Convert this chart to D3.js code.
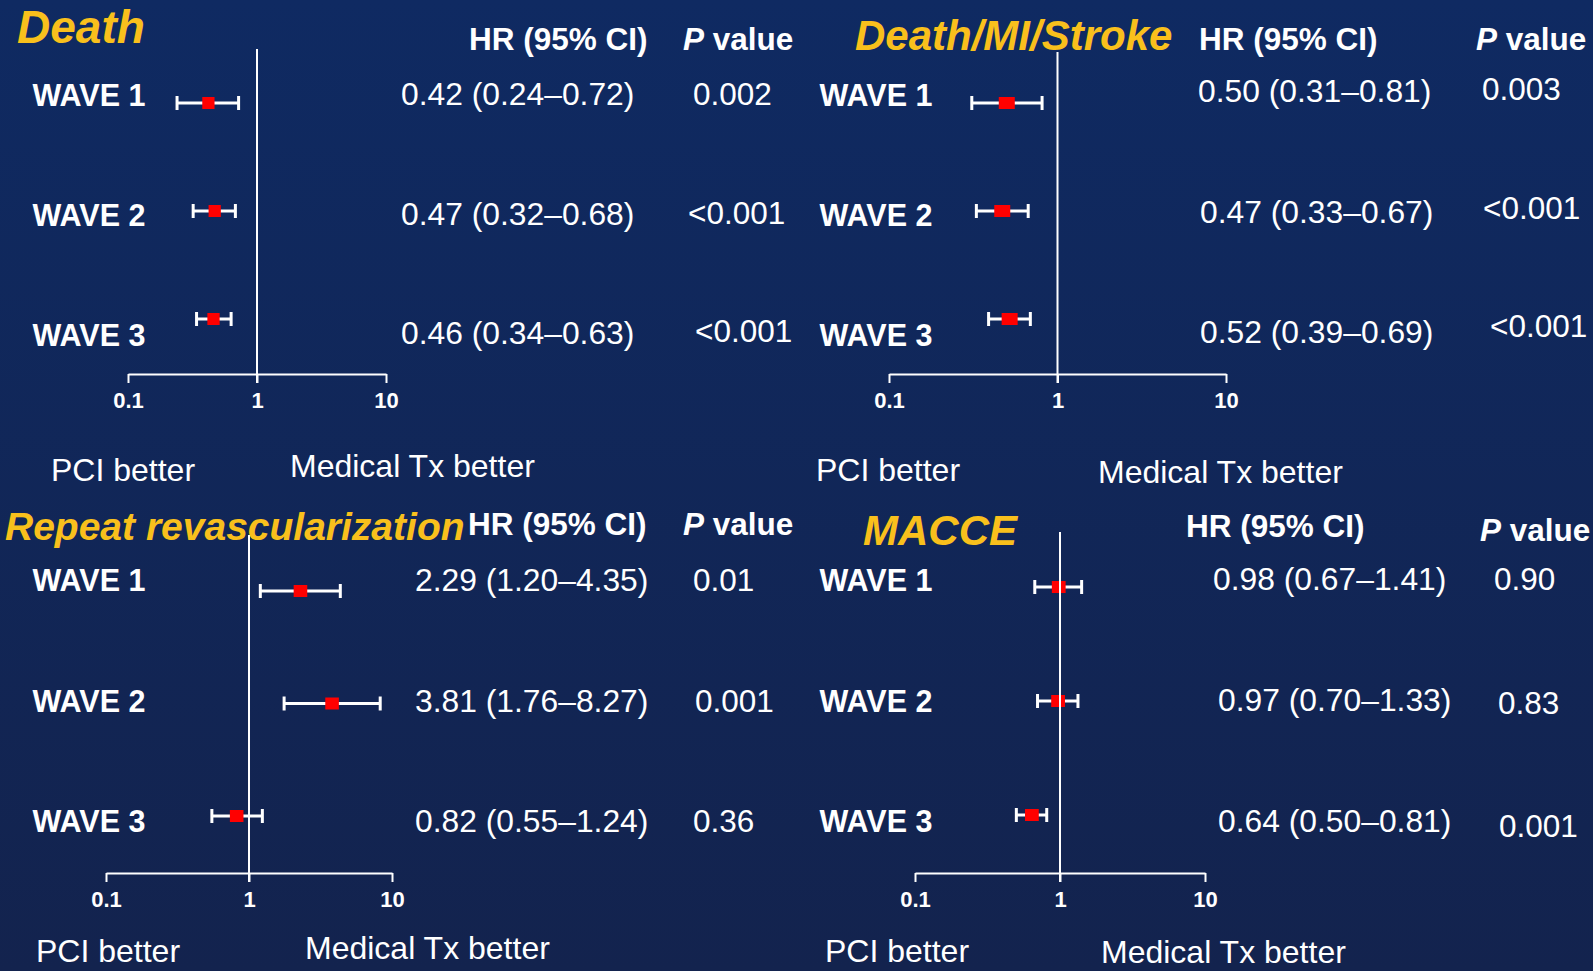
<!DOCTYPE html>
<html>
<head>
<meta charset="utf-8">
<script src="https://cdn.jsdelivr.net/npm/d3@7"></script>
<style>
  body { margin: 0; background: #112960; }
  svg { display: block; }
</style>
</head>
<body>
<script>
const outcomes = ['Death', 'Death/MI/Stroke', 'Repeat revascularization', 'MACCE'];
const waves = ['WAVE 1', 'WAVE 2', 'WAVE 3'];
const hr = [
  [0.42, 0.47, 0.46],
  [0.50, 0.47, 0.52],
  [2.29, 3.81, 0.82],
  [0.98, 0.97, 0.64],
];
const ciLow = [
  [0.24, 0.32, 0.34],
  [0.31, 0.33, 0.39],
  [1.20, 1.76, 0.55],
  [0.67, 0.70, 0.50],
];
const ciHigh = [
  [0.72, 0.68, 0.63],
  [0.81, 0.67, 0.69],
  [4.35, 8.27, 1.24],
  [1.41, 1.33, 0.81],
];
const pValues = [
  ['0.002', '<0.001', '<0.001'],
  ['0.003', '<0.001', '<0.001'],
  ['0.01', '0.001', '0.36'],
  ['0.90', '0.83', '0.001'],
];
const axisTicks = [0.1, 1, 10];
const sideLabels = ['PCI better', 'Medical Tx better'];

// layout of the four panels (pixel positions only)
const layout = [
  { x0: 128, x1: 386, axisY: 374, refTop: 49, bars: [103, 319], labelX: 89, labels: [106, 346],
    hrX: [401, 401, 401], hrRows: [105, 344], pX: [693, 688, 695], pRows: [105, 342],
    headY: 50, headHrX: 469, headPX: 683, headPY: 50,
    title: { x: 17, y: 43, size: 46 }, pci: [51, 481], med: [290, 477] },
  { x0: 889, x1: 1226, axisY: 374, refTop: 52, bars: [103, 319], labelX: 876, labels: [106, 346],
    hrX: [1198, 1200, 1200], hrRows: [102, 343], pX: [1482, 1483, 1490], pRows: [100, 337],
    headY: 50, headHrX: 1199, headPX: 1476, headPY: 50,
    title: { x: 855, y: 50, size: 42 }, pci: [816, 481], med: [1098, 483] },
  { x0: 106, x1: 392, axisY: 873, refTop: 535, bars: [591, 816], labelX: 89, labels: [591, 832],
    hrX: [415, 415, 415], hrRows: [591, 832], pX: [693, 695, 693], pRows: [591, 832],
    headY: 535, headHrX: 468, headPX: 683, headPY: 535,
    title: { x: 5, y: 540, size: 39 }, pci: [36, 962], med: [305, 959] },
  { x0: 915, x1: 1205, axisY: 873, refTop: 532, bars: [587, 815], labelX: 876, labels: [591, 832],
    hrX: [1213, 1218, 1218], hrRows: [590, 832], pX: [1494, 1498, 1499], pRows: [590, 837],
    headY: 537, headHrX: 1186, headPX: 1480, headPY: 541,
    title: { x: 863, y: 545, size: 42 }, pci: [825, 962], med: [1101, 963] },
];

const W = 1593;
const H = 971;
const FONT = '"Liberation Sans", Arial, Helvetica, sans-serif';
const YELLOW = '#f9c01c';
const fmt = d3.format('.2f');

const svg = d3.select('body').append('svg')
  .attr('width', W)
  .attr('height', H)
  .style('font-family', FONT);

const grad = svg.append('defs').append('linearGradient')
  .attr('id', 'bg')
  .attr('x1', 0).attr('y1', 0).attr('x2', 0).attr('y2', 1);
grad.append('stop').attr('offset', '0%').attr('stop-color', '#0f2a62');
grad.append('stop').attr('offset', '100%').attr('stop-color', '#13234e');

svg.append('rect').attr('width', W).attr('height', H).attr('fill', 'url(#bg)');

outcomes.forEach((name, i) => {
  const p = layout[i];
  const g = svg.append('g');

  const x = d3.scaleLog().domain([0.1, 10]).range([p.x0, p.x1]);
  const yBar = d3.scalePoint().domain(waves).range(p.bars);
  const yLabel = d3.scalePoint().domain(waves).range(p.labels);
  const yHr = d3.scalePoint().domain(waves).range(p.hrRows);
  const yP = d3.scalePoint().domain(waves).range(p.pRows);
  const sqW = 0.095 * (p.x1 - p.x0) / 2;
  const sqH = 12;

  const rows = waves.map((w, j) => ({
    wave: w, hr: hr[i][j], lo: ciLow[i][j], hi: ciHigh[i][j], p: pValues[i][j], j,
  }));

  // title
  g.append('text')
    .attr('x', p.title.x)
    .attr('y', p.title.y)
    .attr('fill', YELLOW)
    .attr('font-size', p.title.size)
    .attr('font-weight', 'bold')
    .attr('font-style', 'italic')
    .text(name);

  // column headers
  g.append('text')
    .attr('x', p.headHrX)
    .attr('y', p.headY)
    .attr('fill', '#fff')
    .attr('font-size', 31.5)
    .attr('font-weight', 'bold')
    .text('HR (95% CI)');

  const ph = g.append('text')
    .attr('x', p.headPX)
    .attr('y', p.headPY)
    .attr('fill', '#fff')
    .attr('font-size', 31.5)
    .attr('font-weight', 'bold');
  ph.append('tspan').attr('font-style', 'italic').text('P');
  ph.append('tspan').text(' value');

  // axis
  const axis = d3.axisBottom(x)
    .tickValues(axisTicks)
    .tickFormat((d) => d)
    .tickSizeInner(9)
    .tickSizeOuter(0)
    .tickPadding(9);

  const ax = g.append('g')
    .attr('transform', `translate(0,${p.axisY})`)
    .call(axis);
  ax.attr('font-family', FONT).attr('font-size', 22);
  ax.select('.domain').attr('stroke', '#fff').attr('stroke-width', 2);
  ax.selectAll('.tick line').attr('stroke', '#fff').attr('stroke-width', 2);
  ax.selectAll('.tick text').attr('fill', '#fff').attr('font-weight', 'bold');

  // wave labels
  g.selectAll('.wave')
    .data(rows)
    .join('text')
    .attr('x', p.labelX)
    .attr('y', (d) => yLabel(d.wave))
    .attr('text-anchor', 'middle')
    .attr('fill', '#fff')
    .attr('font-size', 30.5)
    .attr('font-weight', 'bold')
    .text((d) => d.wave);

  // CI whiskers
  g.selectAll('.ci')
    .data(rows)
    .join('line')
    .attr('x1', (d) => x(d.lo))
    .attr('x2', (d) => x(d.hi))
    .attr('y1', (d) => yBar(d.wave))
    .attr('y2', (d) => yBar(d.wave))
    .attr('stroke', '#fff')
    .attr('stroke-width', 3);

  const caps = rows.flatMap((d) => [{ v: d.lo, wave: d.wave }, { v: d.hi, wave: d.wave }]);
  g.selectAll('.cap')
    .data(caps)
    .join('line')
    .attr('x1', (d) => x(d.v))
    .attr('x2', (d) => x(d.v))
    .attr('y1', (d) => yBar(d.wave) - 7)
    .attr('y2', (d) => yBar(d.wave) + 7)
    .attr('stroke', '#fff')
    .attr('stroke-width', 3);

  // point estimates
  g.selectAll('.est')
    .data(rows)
    .join('rect')
    .attr('x', (d) => x(d.hr) - sqW / 2)
    .attr('y', (d) => yBar(d.wave) - sqH / 2)
    .attr('width', sqW)
    .attr('height', sqH)
    .attr('fill', '#ff0000');

  // line of no effect
  g.append('line')
    .attr('x1', x(1))
    .attr('x2', x(1))
    .attr('y1', p.refTop)
    .attr('y2', p.axisY + 9)
    .attr('stroke', '#fff')
    .attr('stroke-width', 2);

  // HR text
  g.selectAll('.hr')
    .data(rows)
    .join('text')
    .attr('x', (d) => p.hrX[d.j])
    .attr('y', (d) => yHr(d.wave))
    .attr('fill', '#fff')
    .attr('font-size', 31.8)
    .text((d) => `${fmt(d.hr)} (${fmt(d.lo)}\u2013${fmt(d.hi)})`);

  // P values
  g.selectAll('.pv')
    .data(rows)
    .join('text')
    .attr('x', (d) => p.pX[d.j])
    .attr('y', (d) => yP(d.wave))
    .attr('fill', '#fff')
    .attr('font-size', 31.5)
    .text((d) => d.p);

  // direction labels
  g.append('text')
    .attr('x', p.pci[0])
    .attr('y', p.pci[1])
    .attr('fill', '#fff')
    .attr('font-size', 32)
    .text(sideLabels[0]);

  g.append('text')
    .attr('x', p.med[0])
    .attr('y', p.med[1])
    .attr('fill', '#fff')
    .attr('font-size', 32)
    .text(sideLabels[1]);
});
</script>
</body>
</html>
